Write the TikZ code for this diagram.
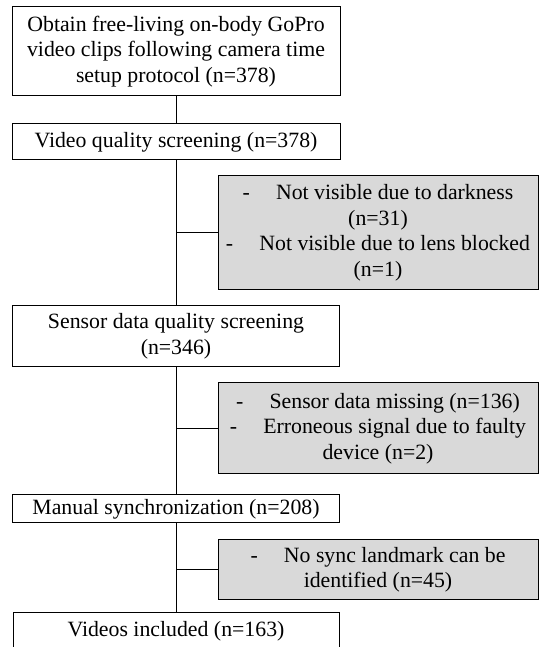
\documentclass[tikz,border=0pt]{standalone}
\usepackage{fontspec}
\setmainfont{Liberation Serif}
\begin{document}
\begin{tikzpicture}[x=1pt,y=1pt,
  every node/.style={font=\fontsize{21.8}{25.5}\selectfont},
  mainbox/.style={draw=black, line width=1pt, fill=white, align=center, inner sep=0pt},
  exclbox/.style={draw=black, line width=1pt, fill=exgray, align=center, inner sep=0pt, minimum width=320pt},
  link/.style={draw=black, line width=1pt}]
\definecolor{exgray}{HTML}{D9D9D9}
\useasboundingbox (0,0) rectangle (539,647);
\node[mainbox, minimum width=328pt, minimum height=89pt] (b1) at (176,595.5)
  {Obtain free-living on-body GoPro\\video clips following camera time\\setup protocol (n=378)};
\node[mainbox, minimum width=328pt, minimum height=36pt] (b2) at (176,505)
  {Video quality screening (n=378)};
\node[mainbox, minimum width=327pt, minimum height=61pt] (b3) at (176,310.5)
  {Sensor data quality screening\\(n=346)};
\node[mainbox, minimum width=327pt, minimum height=28pt] (b4) at (176,138)
  {Manual synchronization (n=208)};
\node[mainbox, minimum width=326pt, minimum height=36pt] (b5) at (176,16)
  {Videos included (n=163)};
\node[exclbox, minimum height=114pt] (g1) at (378,414)
  {-\hspace{1.2em}Not visible due to darkness\\(n=31)\\-\hspace{1.2em}Not visible due to lens blocked\\(n=1)};
\node[exclbox, minimum height=91pt] (g2) at (378,218.5)
  {-\hspace{1.2em}Sensor data missing (n=136)\\-\hspace{1.2em}Erroneous signal due to faulty\\device (n=2)};
\node[exclbox, minimum height=60pt] (g3) at (378,77)
  {-\hspace{1.2em}No sync landmark can be\\identified (n=45)};
\draw[link] (b1.south) -- (b2.north);
\draw[link] (b2.south) -- (b3.north);
\draw[link] (b3.south) -- (b4.north);
\draw[link] (b4.south) -- (b5.north);
\coordinate (j1) at (g1.west -| b2.south);
\coordinate (j2) at (g2.west -| b3.south);
\coordinate (j3) at (g3.west -| b4.south);
\draw[link] (j1) -- (g1.west);
\draw[link] (j2) -- (g2.west);
\draw[link] (j3) -- (g3.west);
\end{tikzpicture}
\end{document}
